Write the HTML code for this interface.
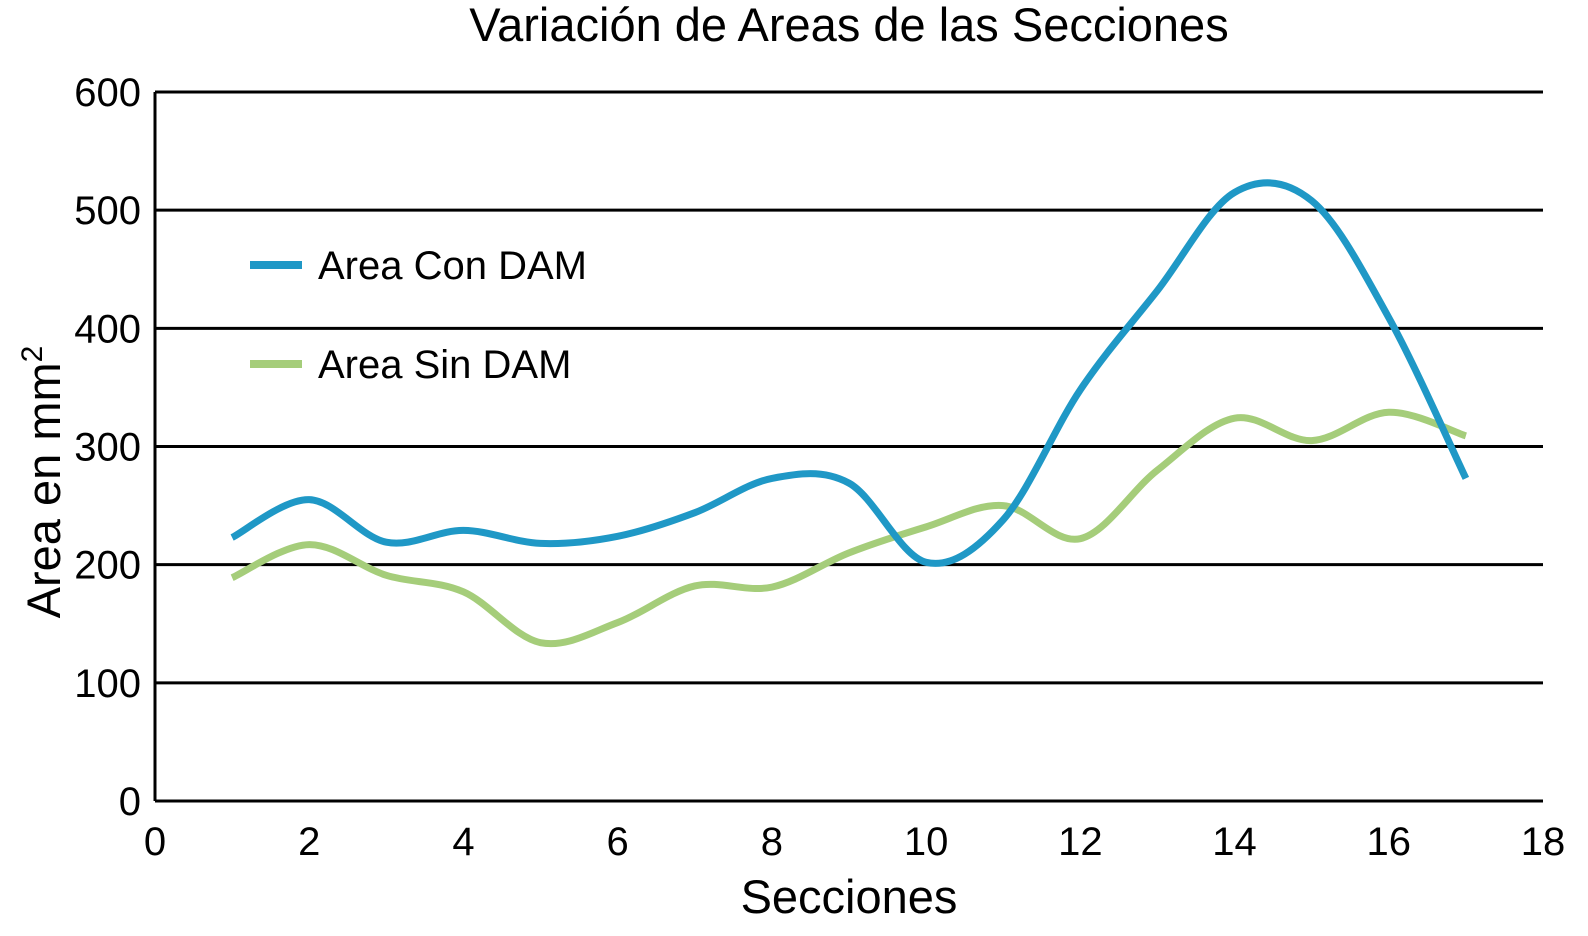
<!DOCTYPE html>
<html><head><meta charset="utf-8"><style>
html,body{margin:0;padding:0;background:#fff;}
svg{display:block;font-family:"Liberation Sans",Arial,sans-serif;}
</style></head><body>
<svg id="chart" width="1588" height="936" viewBox="0 0 1588 936">
<text x="849" y="41" font-size="47" text-anchor="middle">Variación de Areas de las Secciones</text>
<g id="grid"></g><g id="ticks"></g><g id="series"></g>
<text x="849" y="913" font-size="47" text-anchor="middle">Secciones</text>
<text transform="translate(60,482) rotate(-90)" font-size="47" text-anchor="middle">Area en mm<tspan dy="-18" font-size="30">2</tspan></text>
<g>
<line x1="250" y1="265" x2="302" y2="265" stroke="#1f98c6" stroke-width="8"/>
<text x="318" y="279" font-size="40">Area Con DAM</text>
<line x1="250" y1="364" x2="302" y2="364" stroke="#a5cd7a" stroke-width="8"/>
<text x="318" y="378" font-size="40">Area Sin DAM</text>
</g>
</svg>
<script>
const sections=[1,2,3,4,5,6,7,8,9,10,11,12,13,14,15,16,17];
const conDAM=[223,255,219,229,218,224,244,273,269,202,238,348,432,515,508,409,273];
const sinDAM=[189,217,191,177,134,151,182,181,210,232,250,222,280,324,305,329,309];
const xTicks=[0,2,4,6,8,10,12,14,16,18];
const yTicks=[0,100,200,300,400,500,600];
const NS="http://www.w3.org/2000/svg";
const X0=155,X1=1543,Y0=801,Y1=92;
function sx(v){return X0+(v/18)*(X1-X0);}
function sy(v){return Y0-(v/600)*(Y0-Y1);}
const grid=document.getElementById('grid'),ticks=document.getElementById('ticks'),ser=document.getElementById('series');
function mk(t,a){const e=document.createElementNS(NS,t);for(const k in a)e.setAttribute(k,a[k]);return e;}
yTicks.forEach(v=>{
 const l=mk('line',{x1:X0,x2:X1,y1:sy(v),y2:sy(v),stroke:'#000','stroke-width':3});
 
 
 grid.appendChild(l);
 const t=mk('text',{x:141,y:sy(v)+14,'font-size':40,'text-anchor':'end'});
 t.textContent=v;
 
 
 ticks.appendChild(t);
});
const ax=mk('line',{x1:X0,x2:X0,y1:Y1,y2:Y0,stroke:'#000','stroke-width':3});


grid.appendChild(ax);
xTicks.forEach(v=>{
 const t=mk('text',{x:sx(v),y:855,'font-size':40,'text-anchor':'middle'});
 t.textContent=v;
 
 
 ticks.appendChild(t);
});
function pathFor(vals){
 const p=sections.map((s,i)=>[sx(s),sy(vals[i])]);
 let d='M'+p[0][0]+','+p[0][1];
 for(let i=0;i<p.length-1;i++){
  const a=p[i-1]||p[i],b=p[i],c=p[i+1],e=p[i+2]||c;
  const c1=[b[0]+(c[0]-a[0])/6,b[1]+(c[1]-a[1])/6],c2=[c[0]-(e[0]-b[0])/6,c[1]-(e[1]-b[1])/6];
  d+=' C'+c1+' '+c2+' '+c;
 }
 return d;
}
const pg=mk('path',{d:pathFor(sinDAM),fill:'none',stroke:'#a5cd7a','stroke-width':7});


ser.appendChild(pg);
const pb=mk('path',{d:pathFor(conDAM),fill:'none',stroke:'#1f98c6','stroke-width':7});


ser.appendChild(pb);
</script>
</body></html>
